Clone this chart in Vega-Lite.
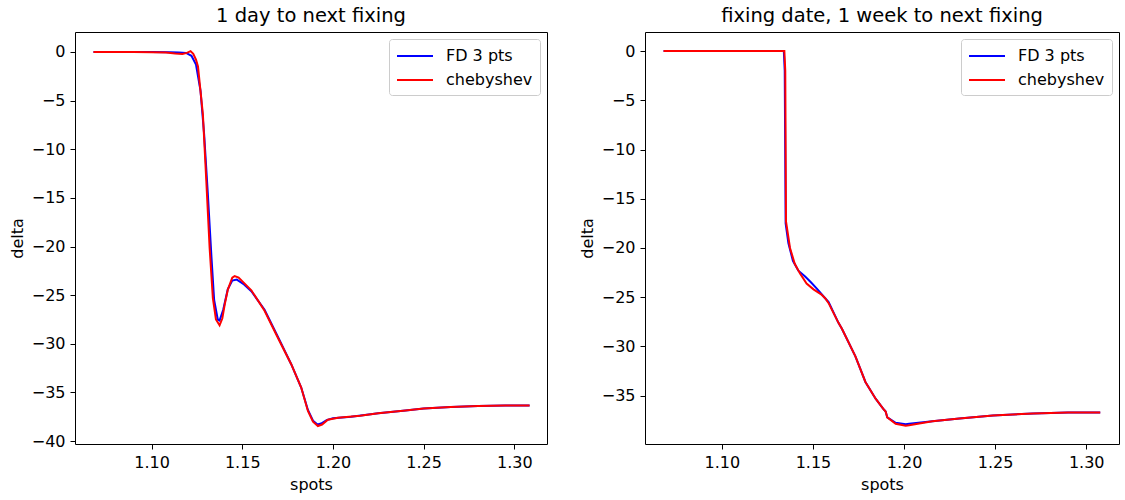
{
  "$schema": "https://vega.github.io/schema/vega-lite/v6.json",
  "background": "white",
  "padding": {"left": 8, "top": 5, "right": 5, "bottom": 5},
  "datasets": {
    "left": [
      {"method": "FD 3 pts", "spot": 1.068, "delta": 0},
      {"method": "FD 3 pts", "spot": 1.08, "delta": 0},
      {"method": "FD 3 pts", "spot": 1.09, "delta": 0},
      {"method": "FD 3 pts", "spot": 1.10, "delta": 0},
      {"method": "FD 3 pts", "spot": 1.11, "delta": -0.02},
      {"method": "FD 3 pts", "spot": 1.115, "delta": -0.05},
      {"method": "FD 3 pts", "spot": 1.119, "delta": -0.1},
      {"method": "FD 3 pts", "spot": 1.122, "delta": -0.4},
      {"method": "FD 3 pts", "spot": 1.1245, "delta": -1.3},
      {"method": "FD 3 pts", "spot": 1.127, "delta": -4.0},
      {"method": "FD 3 pts", "spot": 1.129, "delta": -8.5},
      {"method": "FD 3 pts", "spot": 1.131, "delta": -14.5},
      {"method": "FD 3 pts", "spot": 1.133, "delta": -21},
      {"method": "FD 3 pts", "spot": 1.1345, "delta": -25.5},
      {"method": "FD 3 pts", "spot": 1.1365, "delta": -27.5},
      {"method": "FD 3 pts", "spot": 1.1375, "delta": -27.6},
      {"method": "FD 3 pts", "spot": 1.1395, "delta": -26.5},
      {"method": "FD 3 pts", "spot": 1.142, "delta": -24.4},
      {"method": "FD 3 pts", "spot": 1.1445, "delta": -23.5},
      {"method": "FD 3 pts", "spot": 1.147, "delta": -23.4},
      {"method": "FD 3 pts", "spot": 1.151, "delta": -23.9},
      {"method": "FD 3 pts", "spot": 1.155, "delta": -24.6},
      {"method": "FD 3 pts", "spot": 1.1623, "delta": -26.5},
      {"method": "FD 3 pts", "spot": 1.1697, "delta": -29.3},
      {"method": "FD 3 pts", "spot": 1.177, "delta": -32.1},
      {"method": "FD 3 pts", "spot": 1.1825, "delta": -34.5},
      {"method": "FD 3 pts", "spot": 1.1862, "delta": -36.8},
      {"method": "FD 3 pts", "spot": 1.189, "delta": -37.9},
      {"method": "FD 3 pts", "spot": 1.1915, "delta": -38.3},
      {"method": "FD 3 pts", "spot": 1.1935, "delta": -38.2},
      {"method": "FD 3 pts", "spot": 1.1965, "delta": -37.85},
      {"method": "FD 3 pts", "spot": 1.2, "delta": -37.65},
      {"method": "FD 3 pts", "spot": 1.21, "delta": -37.5},
      {"method": "FD 3 pts", "spot": 1.225, "delta": -37.15},
      {"method": "FD 3 pts", "spot": 1.24, "delta": -36.85},
      {"method": "FD 3 pts", "spot": 1.25, "delta": -36.65},
      {"method": "FD 3 pts", "spot": 1.265, "delta": -36.5},
      {"method": "FD 3 pts", "spot": 1.28, "delta": -36.4},
      {"method": "FD 3 pts", "spot": 1.295, "delta": -36.35},
      {"method": "FD 3 pts", "spot": 1.3084, "delta": -36.35},
      {"method": "chebyshev", "spot": 1.068, "delta": 0},
      {"method": "chebyshev", "spot": 1.08, "delta": 0},
      {"method": "chebyshev", "spot": 1.09, "delta": 0},
      {"method": "chebyshev", "spot": 1.10, "delta": -0.02},
      {"method": "chebyshev", "spot": 1.108, "delta": -0.05},
      {"method": "chebyshev", "spot": 1.113, "delta": -0.15},
      {"method": "chebyshev", "spot": 1.117, "delta": -0.2},
      {"method": "chebyshev", "spot": 1.1195, "delta": -0.1},
      {"method": "chebyshev", "spot": 1.1215, "delta": 0.08},
      {"method": "chebyshev", "spot": 1.123, "delta": -0.2},
      {"method": "chebyshev", "spot": 1.1245, "delta": -0.8},
      {"method": "chebyshev", "spot": 1.1256, "delta": -1.5},
      {"method": "chebyshev", "spot": 1.1283, "delta": -6.4},
      {"method": "chebyshev", "spot": 1.1302, "delta": -13.3},
      {"method": "chebyshev", "spot": 1.132, "delta": -20.1},
      {"method": "chebyshev", "spot": 1.1338, "delta": -25.3},
      {"method": "chebyshev", "spot": 1.1355, "delta": -27.5},
      {"method": "chebyshev", "spot": 1.1375, "delta": -28.1},
      {"method": "chebyshev", "spot": 1.139, "delta": -27.4},
      {"method": "chebyshev", "spot": 1.1405, "delta": -25.8},
      {"method": "chebyshev", "spot": 1.1421, "delta": -24.4},
      {"method": "chebyshev", "spot": 1.1445, "delta": -23.2},
      {"method": "chebyshev", "spot": 1.1458, "delta": -23.05},
      {"method": "chebyshev", "spot": 1.148, "delta": -23.2},
      {"method": "chebyshev", "spot": 1.155, "delta": -24.5},
      {"method": "chebyshev", "spot": 1.1623, "delta": -26.6},
      {"method": "chebyshev", "spot": 1.1697, "delta": -29.4},
      {"method": "chebyshev", "spot": 1.177, "delta": -32.1},
      {"method": "chebyshev", "spot": 1.1825, "delta": -34.5},
      {"method": "chebyshev", "spot": 1.1862, "delta": -36.9},
      {"method": "chebyshev", "spot": 1.189, "delta": -38.0},
      {"method": "chebyshev", "spot": 1.1917, "delta": -38.45},
      {"method": "chebyshev", "spot": 1.194, "delta": -38.3},
      {"method": "chebyshev", "spot": 1.1972, "delta": -37.8},
      {"method": "chebyshev", "spot": 1.2028, "delta": -37.6},
      {"method": "chebyshev", "spot": 1.215, "delta": -37.4},
      {"method": "chebyshev", "spot": 1.225, "delta": -37.15},
      {"method": "chebyshev", "spot": 1.24, "delta": -36.85},
      {"method": "chebyshev", "spot": 1.25, "delta": -36.65},
      {"method": "chebyshev", "spot": 1.265, "delta": -36.5},
      {"method": "chebyshev", "spot": 1.28, "delta": -36.4},
      {"method": "chebyshev", "spot": 1.295, "delta": -36.35},
      {"method": "chebyshev", "spot": 1.3084, "delta": -36.35}
    ],
    "right": [
      {"method": "FD 3 pts", "spot": 1.068, "delta": 0},
      {"method": "FD 3 pts", "spot": 1.09, "delta": 0},
      {"method": "FD 3 pts", "spot": 1.11, "delta": 0},
      {"method": "FD 3 pts", "spot": 1.13, "delta": 0},
      {"method": "FD 3 pts", "spot": 1.134, "delta": 0},
      {"method": "FD 3 pts", "spot": 1.1345, "delta": -2},
      {"method": "FD 3 pts", "spot": 1.135, "delta": -17.5},
      {"method": "FD 3 pts", "spot": 1.1365, "delta": -19.5},
      {"method": "FD 3 pts", "spot": 1.139, "delta": -21.3},
      {"method": "FD 3 pts", "spot": 1.142, "delta": -22.3},
      {"method": "FD 3 pts", "spot": 1.1457, "delta": -22.9},
      {"method": "FD 3 pts", "spot": 1.149, "delta": -23.5},
      {"method": "FD 3 pts", "spot": 1.152, "delta": -24.1},
      {"method": "FD 3 pts", "spot": 1.1567, "delta": -25.1},
      {"method": "FD 3 pts", "spot": 1.1586, "delta": -25.5},
      {"method": "FD 3 pts", "spot": 1.164, "delta": -27.6},
      {"method": "FD 3 pts", "spot": 1.1659, "delta": -28.2},
      {"method": "FD 3 pts", "spot": 1.1733, "delta": -31.0},
      {"method": "FD 3 pts", "spot": 1.1788, "delta": -33.6},
      {"method": "FD 3 pts", "spot": 1.1844, "delta": -35.3},
      {"method": "FD 3 pts", "spot": 1.1885, "delta": -36.3},
      {"method": "FD 3 pts", "spot": 1.1899, "delta": -36.6},
      {"method": "FD 3 pts", "spot": 1.1908, "delta": -37.2},
      {"method": "FD 3 pts", "spot": 1.1954, "delta": -37.75},
      {"method": "FD 3 pts", "spot": 1.2009, "delta": -37.9},
      {"method": "FD 3 pts", "spot": 1.2028, "delta": -37.85},
      {"method": "FD 3 pts", "spot": 1.2156, "delta": -37.6},
      {"method": "FD 3 pts", "spot": 1.2304, "delta": -37.3},
      {"method": "FD 3 pts", "spot": 1.2488, "delta": -37.0},
      {"method": "FD 3 pts", "spot": 1.2709, "delta": -36.8},
      {"method": "FD 3 pts", "spot": 1.29, "delta": -36.7},
      {"method": "FD 3 pts", "spot": 1.3077, "delta": -36.7},
      {"method": "chebyshev", "spot": 1.068, "delta": 0},
      {"method": "chebyshev", "spot": 1.09, "delta": 0},
      {"method": "chebyshev", "spot": 1.11, "delta": 0},
      {"method": "chebyshev", "spot": 1.13, "delta": 0},
      {"method": "chebyshev", "spot": 1.1343, "delta": 0},
      {"method": "chebyshev", "spot": 1.1348, "delta": -2},
      {"method": "chebyshev", "spot": 1.1352, "delta": -17.3},
      {"method": "chebyshev", "spot": 1.1374, "delta": -20.0},
      {"method": "chebyshev", "spot": 1.14, "delta": -21.6},
      {"method": "chebyshev", "spot": 1.1429, "delta": -22.6},
      {"method": "chebyshev", "spot": 1.1465, "delta": -23.6},
      {"method": "chebyshev", "spot": 1.1503, "delta": -24.2},
      {"method": "chebyshev", "spot": 1.1545, "delta": -24.7},
      {"method": "chebyshev", "spot": 1.1567, "delta": -25.1},
      {"method": "chebyshev", "spot": 1.1586, "delta": -25.6},
      {"method": "chebyshev", "spot": 1.164, "delta": -27.6},
      {"method": "chebyshev", "spot": 1.1659, "delta": -28.2},
      {"method": "chebyshev", "spot": 1.1733, "delta": -31.0},
      {"method": "chebyshev", "spot": 1.1788, "delta": -33.6},
      {"method": "chebyshev", "spot": 1.1844, "delta": -35.3},
      {"method": "chebyshev", "spot": 1.1885, "delta": -36.3},
      {"method": "chebyshev", "spot": 1.1899, "delta": -36.6},
      {"method": "chebyshev", "spot": 1.1908, "delta": -37.2},
      {"method": "chebyshev", "spot": 1.1954, "delta": -37.85},
      {"method": "chebyshev", "spot": 1.2009, "delta": -38.05},
      {"method": "chebyshev", "spot": 1.2028, "delta": -38.0},
      {"method": "chebyshev", "spot": 1.2156, "delta": -37.6},
      {"method": "chebyshev", "spot": 1.2304, "delta": -37.3},
      {"method": "chebyshev", "spot": 1.2488, "delta": -37.0},
      {"method": "chebyshev", "spot": 1.2709, "delta": -36.8},
      {"method": "chebyshev", "spot": 1.29, "delta": -36.7},
      {"method": "chebyshev", "spot": 1.3077, "delta": -36.7}
    ]
  },
  "spacing": 98,
  "bounds": "flush",
  "resolve": {"legend": {"color": "independent"}},
  "hconcat": [
    {
      "width": 472,
      "height": 412,
      "data": {"name": "left"},
      "title": {"text": "1 day to next fixing"},
      "mark": {"type": "line", "strokeWidth": 2, "clip": true},
      "encoding": {
        "x": {"field": "spot", "type": "quantitative", "sort": null,
              "scale": {"domain": [1.0578, 1.318], "nice": false, "zero": false},
              "axis": {"title": "spots", "values": [1.10, 1.15, 1.20, 1.25, 1.30], "format": ".2f"}},
        "y": {"field": "delta", "type": "quantitative",
              "scale": {"domain": [-40.3, 2.05], "nice": false, "zero": false},
              "axis": {"title": "delta", "values": [0, -5, -10, -15, -20, -25, -30, -35, -40]}},
        "color": {"field": "method", "type": "nominal",
                  "scale": {"domain": ["FD 3 pts", "chebyshev"], "range": ["#0000ff", "#ff0000"]},
                  "legend": {"title": null}}
      }
    },
    {
      "width": 474,
      "height": 412,
      "data": {"name": "right"},
      "title": {"text": "fixing date, 1 week to next fixing"},
      "mark": {"type": "line", "strokeWidth": 2, "clip": true},
      "encoding": {
        "x": {"field": "spot", "type": "quantitative", "sort": null,
              "scale": {"domain": [1.0578, 1.318], "nice": false, "zero": false},
              "axis": {"title": "spots", "values": [1.10, 1.15, 1.20, 1.25, 1.30], "format": ".2f"}},
        "y": {"field": "delta", "type": "quantitative",
              "scale": {"domain": [-39.9, 1.93], "nice": false, "zero": false},
              "axis": {"title": "delta", "values": [0, -5, -10, -15, -20, -25, -30, -35]}},
        "color": {"field": "method", "type": "nominal",
                  "scale": {"domain": ["FD 3 pts", "chebyshev"], "range": ["#0000ff", "#ff0000"]},
                  "legend": {"title": null}}
      }
    }
  ],
  "config": {
    "font": "DejaVu Sans",
    "view": {"stroke": "black", "strokeWidth": 1},
    "title": {"fontSize": 19.5, "fontWeight": "normal", "color": "black", "anchor": "middle", "offset": 6},
    "axis": {
      "grid": false,
      "domain": false,
      "ticks": true,
      "tickColor": "black",
      "tickSize": 5,
      "tickWidth": 1,
      "labelColor": "black",
      "labelFontSize": 16,
      "labelPadding": 5,
      "titleColor": "black",
      "titleFontSize": 16,
      "titleFontWeight": "normal",
      "titlePadding": 6
    },
    "legend": {
      "orient": "top-right",
      "offset": 7,
      "fillColor": "white",
      "strokeColor": "#cccccc",
      "cornerRadius": 3,
      "padding": 7,
      "labelFontSize": 16,
      "labelColor": "black",
      "labelOffset": 30,
      "symbolType": "M-1,0H3",
      "symbolSize": 324,
      "symbolStrokeWidth": 2,
      "rowPadding": 6
    }
  }
}
